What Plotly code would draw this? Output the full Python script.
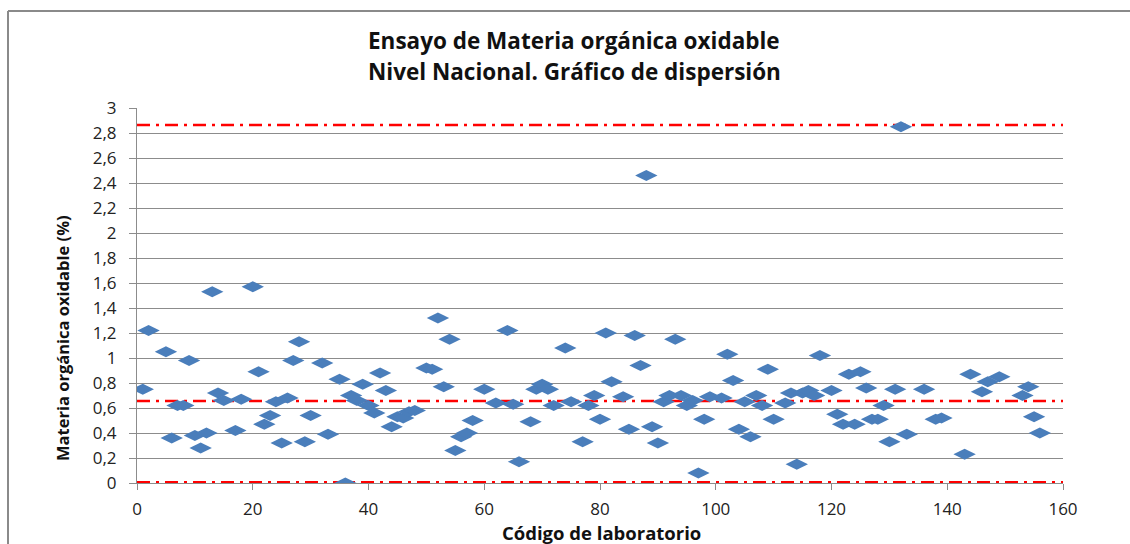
import plotly.graph_objects as go

# Laboratory codes and measured oxidisable organic matter (%)
codigos = [1, 2, 5, 6, 7, 8, 9, 10, 11, 12, 13, 14, 15, 17, 18, 20, 21, 22, 23, 24,
           25, 26, 27, 28, 29, 30, 32, 33, 35, 36, 37, 38, 39, 40, 41, 42, 43, 44, 45, 46,
           47, 48, 50, 51, 52, 53, 54, 55, 56, 57, 58, 60, 62, 64, 65, 66, 68, 69, 70, 71,
           72, 74, 75, 77, 78, 79, 80, 81, 82, 84, 85, 86, 87, 88, 89, 90, 91, 92, 93, 94,
           95, 96, 97, 98, 99, 101, 102, 103, 104, 105, 106, 107, 108, 109, 110, 112, 113, 114, 115, 116,
           117, 118, 120, 121, 122, 123, 124, 125, 126, 127, 128, 129, 130, 131, 132, 133, 136, 138, 139, 143,
           144, 146, 147, 149, 153, 154, 155, 156]
valores = [0.75, 1.22, 1.05, 0.36, 0.62, 0.62, 0.98, 0.38, 0.28, 0.40, 1.53, 0.72, 0.66, 0.42, 0.67, 1.57, 0.89, 0.47, 0.54, 0.65,
           0.32, 0.68, 0.98, 1.13, 0.33, 0.54, 0.96, 0.39, 0.83, 0.00, 0.70, 0.66, 0.79, 0.62, 0.56, 0.88, 0.74, 0.45, 0.53, 0.52,
           0.57, 0.58, 0.92, 0.91, 1.32, 0.77, 1.15, 0.26, 0.37, 0.40, 0.50, 0.75, 0.64, 1.22, 0.63, 0.17, 0.49, 0.75, 0.79, 0.75,
           0.62, 1.08, 0.65, 0.33, 0.62, 0.70, 0.51, 1.20, 0.81, 0.69, 0.43, 1.18, 0.94, 2.46, 0.45, 0.32, 0.65, 0.70, 1.15, 0.70,
           0.62, 0.66, 0.08, 0.51, 0.69, 0.68, 1.03, 0.82, 0.43, 0.65, 0.37, 0.70, 0.62, 0.91, 0.51, 0.64, 0.72, 0.15, 0.72, 0.74,
           0.70, 1.02, 0.74, 0.55, 0.47, 0.87, 0.47, 0.89, 0.76, 0.51, 0.51, 0.62, 0.33, 0.75, 2.85, 0.39, 0.75, 0.51, 0.52, 0.23,
           0.87, 0.73, 0.81, 0.85, 0.70, 0.77, 0.53, 0.40]

# Reference levels (upper limit, mean, lower limit)
limite_superior = 2.865
media = 0.657
limite_inferior = 0.006
rango_x = [0, 160]

y_ticks = [0, 0.2, 0.4, 0.6, 0.8, 1, 1.2, 1.4, 1.6, 1.8, 2, 2.2, 2.4, 2.6, 2.8, 3]
y_tick_text = ["0", "0,2", "0,4", "0,6", "0,8", "1", "1,2", "1,4", "1,6", "1,8", "2", "2,2", "2,4", "2,6", "2,8", "3"]
x_ticks = [0, 20, 40, 60, 80, 100, 120, 140, 160]

titulo_1 = "Ensayo de Materia orgánica oxidable"
titulo_2 = "Nivel Nacional. Gráfico de dispersión"
titulo_x = "Código de laboratorio"
titulo_y = "Materia orgánica oxidable (%)"

FONT = "'Open Sans', Lato, sans-serif"
GRID = "#8c8c8c"

fig = go.Figure()

for nivel in [limite_superior, media, limite_inferior]:
    fig.add_trace(go.Scatter(
        x=rango_x, y=[nivel, nivel], mode="lines",
        line=dict(color="#ff0000", width=2.5, dash="13px,6px,3px,6px"),
        hoverinfo="skip", showlegend=False,
    ))

fig.add_trace(go.Scatter(
    x=codigos, y=valores, mode="markers",
    marker=dict(symbol="diamond-wide", size=16, color="#4a7ebb",
                line=dict(width=0)),
    showlegend=False,
))

W, H = 1130, 544
ml, mr, mt, mb = 137, 67, 108, 61
pw, ph = W - ml - mr, H - mt - mb


def px_x(p):
    return (p - ml) / pw


def px_y(p):
    return (H - mb - p) / ph


def texto(t, x, y, size, angle=0):
    return dict(text="<b>" + t + "</b>", xref="paper", yref="paper",
                x=px_x(x), y=px_y(y), xanchor="center", yanchor="middle",
                showarrow=False, textangle=angle,
                font=dict(size=size, family=FONT, color="#111111"))


fig.update_layout(
    width=W, height=H,
    margin=dict(l=ml, r=mr, t=mt, b=mb),
    paper_bgcolor="white", plot_bgcolor="white",
    font=dict(family=FONT, color="#222222"),
    xaxis=dict(
        range=rango_x, tickvals=x_ticks, showgrid=False, zeroline=False,
        showline=True, linecolor=GRID, linewidth=1,
        ticks="outside", ticklen=6, tickcolor=GRID, ticklabelstandoff=5,
        tickfont=dict(size=17, family=FONT, color="#222222"),
    ),
    yaxis=dict(
        range=[0, 3], tickvals=y_ticks, ticktext=y_tick_text,
        showgrid=True, gridcolor=GRID, gridwidth=1, zeroline=False,
        showline=True, linecolor=GRID, linewidth=1,
        ticks="outside", ticklen=7, tickcolor=GRID, ticklabelstandoff=9,
        tickfont=dict(size=17, family=FONT, color="#222222"),
    ),
    annotations=[
        texto(titulo_1, 574, 41, 22.5),
        texto(titulo_2, 574, 72, 22.5),
        texto(titulo_x, 601, 532, 18.5),
        texto(titulo_y, 62, 338, 16.5, angle=-90),
    ],
    shapes=[
        dict(type="line", xref="paper", yref="paper",
             x0=px_x(8), x1=px_x(W + 5), y0=px_y(11), y1=px_y(11),
             line=dict(color="#8a8a8a", width=2)),
        dict(type="line", xref="paper", yref="paper",
             x0=px_x(8), x1=px_x(8), y0=px_y(11), y1=px_y(H + 5),
             line=dict(color="#8a8a8a", width=2)),
    ],
)

fig.write_html("out.html")
